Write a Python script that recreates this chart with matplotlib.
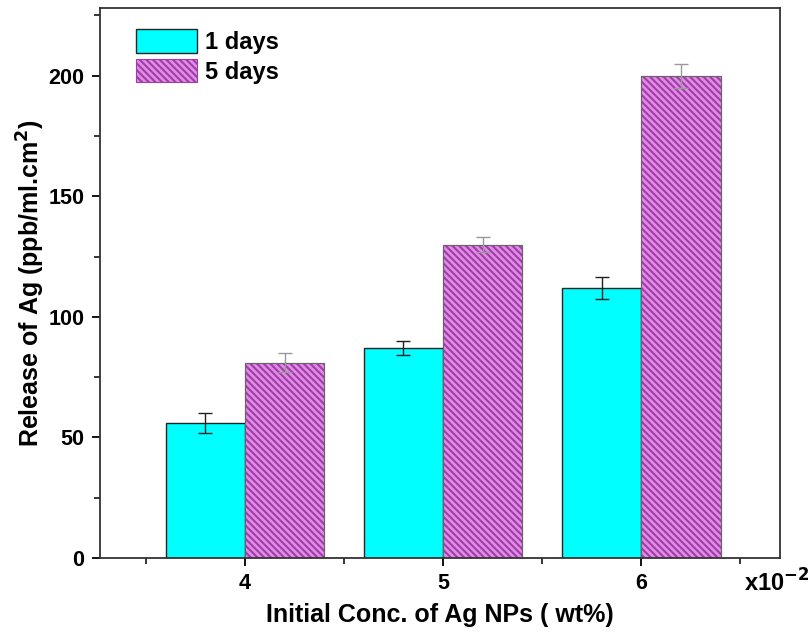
import numpy as np
import matplotlib.pyplot as plt
from matplotlib.ticker import MultipleLocator

plt.rcParams['font.family'] = ['Liberation Sans', 'DejaVu Sans']
plt.rcParams['font.weight'] = 'bold'
plt.rcParams['hatch.linewidth'] = 1.5
plt.rcParams['hatch.color'] = '#9a40a6'

conc = [4, 5, 6]
day1 = [56, 87, 112]
day1_err = [4, 3, 4.5]
day5 = [81, 130, 200]
day5_err = [4, 3, 5]

fig = plt.figure(figsize=(8.12, 6.33), dpi=100)
ax = fig.add_axes([0.123, 0.1185, 0.8376, 0.8685])

w = 0.4
x = np.array(conc, dtype=float)
ax.bar(x - w / 2, day1, w, color='#00ffff', edgecolor='#222222', linewidth=1.0,
       label='1 days')
ax.errorbar(x - w / 2, day1, yerr=day1_err, fmt='none', ecolor='#222222',
            elinewidth=1.0, capsize=5)
ax.bar(x + w / 2, day5, w, color='#e68ae8', edgecolor='#9a40a6',
       hatch='\\' * 5, linewidth=0.8, label='5 days')
ax.bar(x + w / 2, day5, w, fill=False, edgecolor='#666666', linewidth=0.8)
ax.errorbar(x + w / 2, day5, yerr=day5_err, fmt='none', ecolor='#999999',
            elinewidth=1.0, capsize=5)

ax.set_xlim(3.268, 6.70)
ax.set_ylim(0, 228)
ax.set_xticks(conc)
ax.set_xticks([3.5, 4.5, 5.5, 6.5], minor=True)
ax.yaxis.set_major_locator(MultipleLocator(50))
ax.yaxis.set_minor_locator(MultipleLocator(25))
ax.tick_params(axis='both', which='major', direction='out', length=6, width=1.3,
               labelsize=15.5, pad=5)
ax.tick_params(axis='both', which='minor', direction='out', length=4, width=1.1)
for s in ax.spines.values():
    s.set_linewidth(1.3)
    s.set_color('#333333')

ax.set_xlabel('Initial Conc. of Ag NPs ( wt%)', fontsize=18, fontweight='bold',
              labelpad=6)
ax.set_ylabel('Release of Ag (ppb/ml.cm$^{\\mathbf{2}}$)', fontsize=18,
              fontweight='bold', labelpad=1)
ax.text(0.995, -0.045, 'x10$^{\\mathbf{-2}}$', transform=ax.transAxes, fontsize=17,
        fontweight='bold', ha='center', va='center')

ax.legend(loc='upper left', bbox_to_anchor=(0.022, 1.0), fontsize=17, frameon=False,
          handlelength=2.6, handleheight=1.15, labelspacing=0.2, handletextpad=0.3)

fig.savefig('out.png', dpi=100)
